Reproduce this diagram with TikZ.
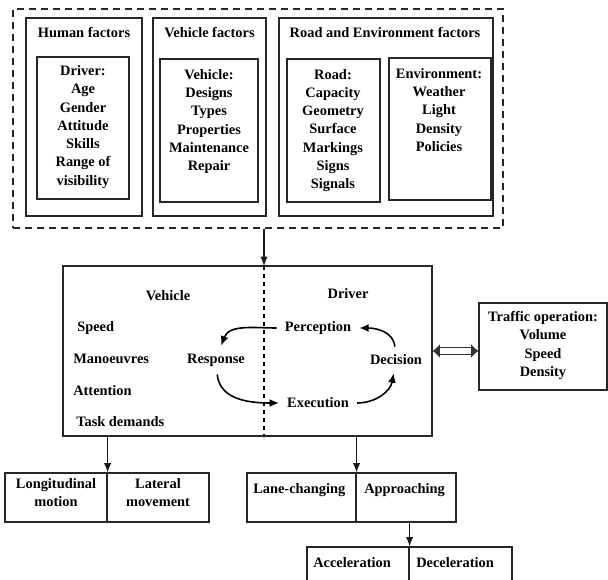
\documentclass[tikz,border=0pt]{standalone}
\usepackage{fontspec}
\setmainfont{Liberation Serif}
\usetikzlibrary{arrows.meta,fit}
\tikzset{
  box/.style={draw=black!85, line width=0.9pt, inner sep=0pt},
  outerbox/.style={box, dash pattern=on 5.5pt off 3.5pt},
  lbl/.style={font=\fontsize{10.8}{13.7}\selectfont\bfseries, align=center, inner sep=0pt},
  cyc/.style={lbl, inner sep=6pt},
  arr/.style={-{Latex[length=7pt,width=5.5pt]}, line width=0.9pt, draw=black!90},
  cyclearr/.style={-{Latex[length=7pt,width=6pt]}, line width=1.2pt},
  dblarr/.style={double=white, double distance=3.8pt, line width=0.8pt, draw=black!80,
    {Latex[length=5.5pt,width=10.5pt]}-{Latex[length=5.5pt,width=10.5pt]}}
}
\begin{document}
\begin{tikzpicture}[x=0.75pt,y=0.75pt]
  \useasboundingbox (0,0) rectangle (608,-580);
  \clip (0,0) rectangle (608,-580);
  % factor groups
  \node[outerbox, fit={(13,-9) (503,-228)}] (factors) {};
  \node[box, fit={(26,-18) (142,-216)}] (human) {};
  \node[box, fit={(37,-57) (129,-199)}] (driverbox) {};
  \node[box, fit={(153,-18) (266,-216)}] (vehfac) {};
  \node[box, fit={(160,-59) (258,-202)}] (vehbox) {};
  \node[box, fit={(279,-18) (493,-216)}] (roadfac) {};
  \node[box, fit={(287,-59) (380,-202)}] (roadbox) {};
  \node[box, fit={(389,-58) (491,-200)}] (envbox) {};
  \node[lbl] (humanT) at (84,-33) {Human factors};
  \node[lbl] (vehfacT) at (209.5,-33) {Vehicle factors};
  \node[lbl] (roadfacT) at (385,-33) {Road and Environment factors};
  \node[lbl] (driverT) at (83,-127) {Driver:\\Age\\Gender\\Attitude\\Skills\\Range of\\visibility};
  \node[lbl] (vehT) at (209,-121.5) {Vehicle:\\Designs\\Types\\Properties\\Maintenance\\Repair};
  \node[lbl] (roadT) at (333,-130.5) {Road:\\Capacity\\Geometry\\Surface\\Markings\\Signs\\Signals};
  \node[lbl] (envT) at (439,-110) {Environment:\\Weather\\Light\\Density\\Policies};
  % vehicle / driver block
  \node[box, fit={(63,-266) (432,-436)}] (main) {};
  \coordinate (divtop) at (264,-266);
  \draw[dashed, line width=0.8pt] (divtop) -- (divtop |- main.south);
  \draw[arr] (factors.south -| divtop) -- (divtop);
  \node[lbl] (vehL) at (168,-296) {Vehicle};
  \node[lbl] (drvL) at (348,-294) {Driver};
  \node[lbl, anchor=west] (speed) at (77,-328) {Speed};
  \node[lbl, anchor=west] (manoeuv) at (73,-359) {Manoeuvres};
  \node[lbl, anchor=west] (attent) at (73,-391) {Attention};
  \node[lbl, anchor=west] (task) at (76,-422) {Task demands};
  \node[cyc] (resp) at (216,-360) {Response};
  \node[cyc] (percep) at (318,-328) {Perception};
  \node[cyc] (decis) at (396,-360) {Decision};
  \node[cyc] (exec) at (318,-403) {Execution};
  \draw[cyclearr] (percep) to[out=180,in=70] (resp);
  \draw[cyclearr] (resp) to[out=-85,in=180] (exec);
  \draw[cyclearr] (exec) to[out=0,in=-100] (decis);
  \draw[cyclearr] (decis) to[out=95,in=0] (percep);
  % traffic operation
  \node[box, fit={(479,-303) (607,-390)}] (traffic) {};
  \node[lbl] (trafficT) at (543,-345.5) {Traffic operation:\\Volume\\Speed\\Density};
  \draw[dblarr] (main.east) -- (main.east -| traffic.west);
  % outcomes
  \node[box, lbl, fit={(5,-473) (107,-522)}] (longi) {Longitudinal\\motion};
  \node[box, lbl, fit={(107,-473) (209,-522)}] (later) {Lateral\\movement};
  \node[box, fit={(247,-473) (356,-522)}] (lane) {};
  \node[box, fit={(356,-473) (456,-522)}] (appr) {};
  \node[lbl, anchor=west] (laneT) at (253,-490) {Lane-changing};
  \node[lbl, anchor=west] (apprT) at (364,-490) {Approaching};
  \node[box, fit={(307,-547) (409,-600)}] (acc) {};
  \node[box, fit={(409,-547) (512,-600)}] (dec) {};
  \node[lbl, anchor=west] (accT) at (313,-563) {Acceleration};
  \node[lbl, anchor=west] (decT) at (416,-563) {Deceleration};
  \draw[arr] (main.south -| longi.north east) -- (longi.north east);
  \draw[arr] (main.south -| lane.north east) -- (lane.north east);
  \draw[arr] (appr.south -| acc.north east) -- (acc.north east);
\end{tikzpicture}
\end{document}
